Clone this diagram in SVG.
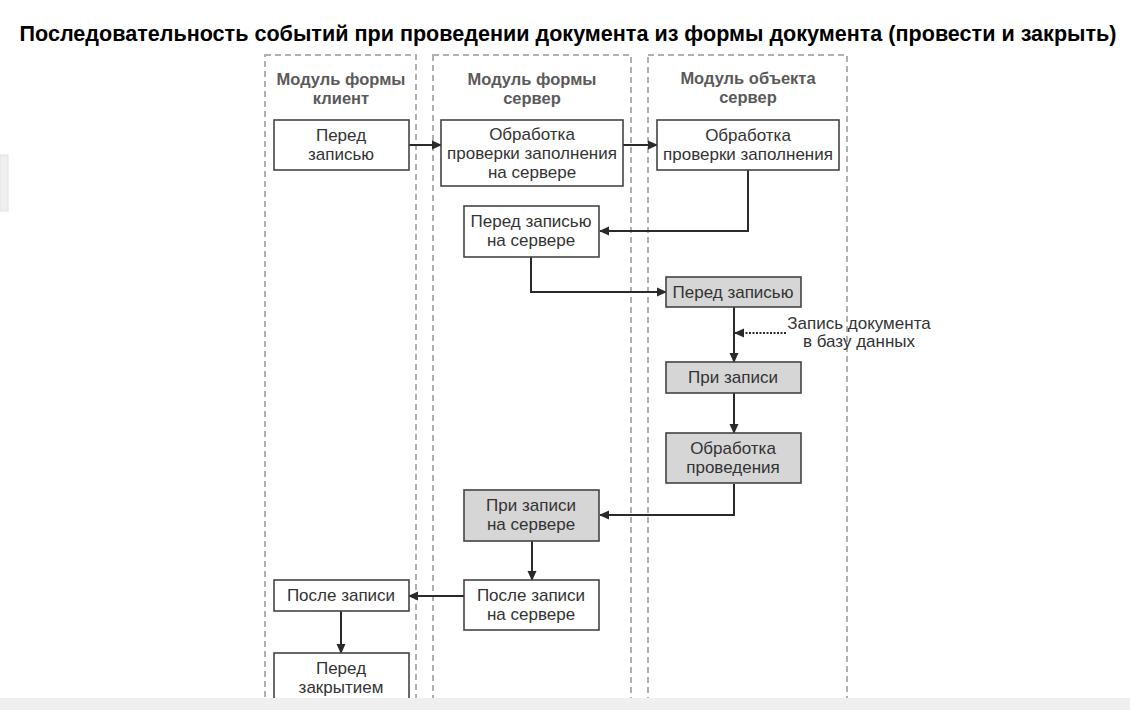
<svg xmlns="http://www.w3.org/2000/svg" width="1130" height="710" viewBox="0 0 1130 710">
<defs>
<style>
.lane{fill:none;stroke:#b0b0b0;stroke-width:2;stroke-dasharray:6 4}
.hdr{font-family:"Liberation Sans",Arial,sans-serif;font-weight:bold;font-size:16.5px;fill:#5a5a5a;text-anchor:middle}
.box{fill:#fff;stroke:#444;stroke-width:1.6}
.gbox{fill:#d6d6d6;stroke:#444;stroke-width:1.6}
.t{font-family:"Liberation Sans",Arial,sans-serif;font-size:17px;fill:#333;text-anchor:middle}
.c{fill:none;stroke:#2a2a2a;stroke-width:2}
.d{fill:none;stroke:#2a2a2a;stroke-width:2;stroke-dasharray:2 1.5}
</style>
<marker id="ah" markerWidth="10" markerHeight="10" refX="9" refY="5" orient="auto" markerUnits="userSpaceOnUse">
<path d="M0,0.5 L10,5 L0,9.5 z" fill="#2a2a2a"/>
</marker>
</defs>
<rect x="0" y="0" width="1130" height="710" fill="#fff"/>
<rect x="0" y="155" width="8" height="56" fill="#efefef" stroke="#e2e2e2"/>
<text x="568" y="41" font-family="Liberation Sans,Arial,sans-serif" font-weight="bold" font-size="21.5" fill="#000" text-anchor="middle" textLength="1097" lengthAdjust="spacingAndGlyphs">Последовательность событий при проведении документа из формы документа (провести и закрыть)</text>

<g id="lanes">
<rect class="lane" x="265" y="55" width="151" height="660"/>
<rect class="lane" x="433" y="55" width="198" height="660"/>
<rect class="lane" x="648" y="55" width="199" height="660"/>
<text class="hdr" x="341" y="85">Модуль формы</text>
<text class="hdr" x="341" y="104">клиент</text>
<text class="hdr" x="532" y="85">Модуль формы</text>
<text class="hdr" x="532" y="104">сервер</text>
<text class="hdr" x="748" y="84">Модуль объекта</text>
<text class="hdr" x="748" y="103">сервер</text>
</g>

<g id="connectors">
<path class="c" d="M409,145 H441" marker-end="url(#ah)"/>
<path class="c" d="M623,145 H657" marker-end="url(#ah)"/>
<path class="c" d="M748,170 V231 H600" marker-end="url(#ah)"/>
<path class="c" d="M531,257 V292 H666" marker-end="url(#ah)"/>
<path class="c" d="M734,307 V362" marker-end="url(#ah)"/>
<path class="d" d="M786,333 H735" marker-end="url(#ah)"/>
<path class="c" d="M734,393 V433" marker-end="url(#ah)"/>
<path class="c" d="M734,484 V515 H600" marker-end="url(#ah)"/>
<path class="c" d="M532,541 V580" marker-end="url(#ah)"/>
<path class="c" d="M464,596 H409" marker-end="url(#ah)"/>
<path class="c" d="M341,611 V653" marker-end="url(#ah)"/>
</g>

<g id="n1"><rect class="box" x="274" y="120" width="135" height="50"/>
<text class="t" x="341" y="141">Перед</text><text class="t" x="341" y="160">записью</text></g>
<g id="n2"><rect class="box" x="441" y="120" width="182" height="66"/>
<text class="t" x="532" y="140">Обработка</text><text class="t" x="532" y="159">проверки заполнения</text><text class="t" x="532" y="178">на сервере</text></g>
<g id="n3"><rect class="box" x="657" y="120" width="182" height="50"/>
<text class="t" x="748" y="141">Обработка</text><text class="t" x="748" y="160">проверки заполнения</text></g>
<g id="n4"><rect class="box" x="464" y="206" width="135" height="51"/>
<text class="t" x="531" y="227">Перед записью</text><text class="t" x="531" y="246">на сервере</text></g>
<g id="n5"><rect class="gbox" x="666" y="277" width="135" height="30"/>
<text class="t" x="733" y="298">Перед записью</text></g>
<g id="note"><text class="t" x="859" y="329">Запись документа</text><text class="t" x="859" y="347">в базу данных</text></g>
<g id="n6"><rect class="gbox" x="666" y="362" width="135" height="31"/>
<text class="t" x="733" y="383">При записи</text></g>
<g id="n7"><rect class="gbox" x="666" y="433" width="135" height="50"/>
<text class="t" x="733" y="454">Обработка</text><text class="t" x="733" y="473">проведения</text></g>
<g id="n8"><rect class="gbox" x="464" y="490" width="135" height="51"/>
<text class="t" x="531" y="511">При записи</text><text class="t" x="531" y="530">на сервере</text></g>
<g id="n9"><rect class="box" x="464" y="580" width="135" height="50"/>
<text class="t" x="531" y="601">После записи</text><text class="t" x="531" y="620">на сервере</text></g>
<g id="n10"><rect class="box" x="274" y="580" width="135" height="31"/>
<text class="t" x="341" y="601">После записи</text></g>
<g id="n11"><rect class="box" x="274" y="653" width="135" height="60"/>
<text class="t" x="341" y="674">Перед</text><text class="t" x="341" y="693">закрытием</text></g>

<rect x="0" y="698" width="1130" height="12" fill="#efefef"/>
</svg>
